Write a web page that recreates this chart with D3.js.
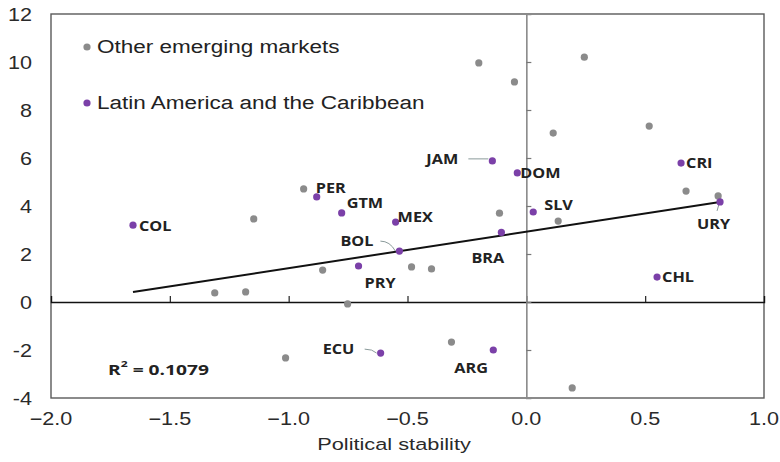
<!DOCTYPE html>
<html>
<head>
<meta charset="utf-8">
<script src="https://cdn.jsdelivr.net/npm/d3@7"></script>
<style>
  html, body { margin: 0; padding: 0; background: #fff; }
  svg { display: block; }
</style>
</head>
<body>
<svg id="chart" width="780" height="462"></svg>
<script>
// Other emerging markets: political stability (x) vs. value (y)
const otherX = [-0.20, -0.05, 0.244, 0.113, 0.517, 0.672, 0.807, 0.134, -0.937, -0.113,
                -0.857, -0.483, -0.399, -0.752, -1.147, -1.311, -1.181, -1.013, -0.315, 0.193];
const otherY = [9.96, 9.17, 10.2, 7.04, 7.33, 4.62, 4.42, 3.37, 4.71, 3.70,
                1.33, 1.46, 1.38, -0.08, 3.46, 0.38, 0.42, -2.33, -1.67, -3.58];

// Latin America and the Caribbean
const lacCodes = ["COL", "PER", "GTM", "MEX", "BOL", "PRY", "BRA", "JAM", "DOM", "SLV", "CRI", "URY", "CHL", "ECU", "ARG"];
const lacX = [-1.655, -0.882, -0.777, -0.55, -0.534, -0.706, -0.105, -0.143, -0.038, 0.029, 0.651, 0.815, 0.55, -0.613, -0.139];
const lacY = [3.2, 4.38, 3.71, 3.33, 2.12, 1.5, 2.9, 5.88, 5.38, 3.75, 5.79, 4.17, 1.04, -2.13, -2.0];

// Linear trend fitted over all countries
const trendSlope = 1.52;
const trendIntercept = 2.93;
const rSquared = "0.1079";

const xTicks = [-2.0, -1.5, -1.0, -0.5, 0.0, 0.5, 1.0];
const yTicks = [-4, -2, 0, 2, 4, 6, 8, 10, 12];
const legendNames = ["Other emerging markets", "Latin America and the Caribbean"];

// Label placement relative to each LAC marker (pixels), and which ones get a leader line
const labelOffset = {
  COL: [6, 1], PER: [-1, -9], GTM: [5, -10], MEX: [2, -5], BOL: [-59, -10],
  PRY: [6, 17], BRA: [-30, 25], JAM: [-66, -2], DOM: [3, 0], SLV: [11, -7],
  CRI: [5, 0], URY: [-23, 22], CHL: [5, 0], ECU: [-58, -4], ARG: [-39, 18]
};
const leaders = new Set(["BOL", "JAM", "ECU", "URY"]);

const GRAY = "#8b8b8b", PURPLE = "#7b40a8";

const svg = d3.select("#chart");
const x = d3.scaleLinear().domain([-2, 1]).range([51, 764]);
const y = d3.scaleLinear().domain([-4, 12]).range([398, 14]);

// helper: horizontally widened text anchored at (px, py)
function stretchedText(parent, px, py, str, opts) {
  const g = parent.append("g").attr("transform", `translate(${px},${py}) scale(${opts.sx || 1},1)`);
  return g.append("text")
    .attr("x", 0).attr("y", 0)
    .attr("text-anchor", opts.anchor || "start")
    .attr("dominant-baseline", "central")
    .attr("font-family", opts.family || "'Liberation Sans', Arial, sans-serif")
    .attr("font-size", opts.size)
    .attr("font-weight", opts.weight || "normal")
    .attr("fill", opts.fill || "#2a2a2a")
    .text(str);
}

// plot-area frame
svg.append("rect")
  .attr("x", x(-2)).attr("y", y(12))
  .attr("width", x(1) - x(-2)).attr("height", y(-4) - y(12))
  .attr("fill", "none").attr("stroke", "#5a5a5a").attr("stroke-width", 1.4);

// horizontal axis through y = 0
const xAxis = d3.axisTop(x).tickValues(xTicks.filter(t => t > -2 && t < 1)).tickSize(6).tickFormat("");
const gx = svg.append("g").attr("transform", `translate(0,${y(0)})`).call(xAxis);
gx.select(".domain").attr("stroke", "#111").attr("stroke-width", 1.4);
gx.selectAll(".tick line").attr("stroke", "#222").attr("stroke-width", 1.2);

// vertical axis through x = 0
const yAxis = d3.axisRight(y).tickValues(yTicks.filter(t => t > -4 && t < 12)).tickSize(5).tickFormat("");
const gy = svg.append("g").attr("transform", `translate(${x(0)},0)`).call(yAxis);
gy.select(".domain").attr("stroke", "#8a8a8a").attr("stroke-width", 1.6);
gy.selectAll(".tick line").attr("stroke", "#777").attr("stroke-width", 1.2);

// tick labels along the frame
yTicks.forEach(t => stretchedText(svg, 32, y(t) + 1, String(t), { size: 18, anchor: "end", sx: 1.2 }));
xTicks.forEach(t => stretchedText(svg, x(t), 419, d3.format(".1f")(t), { size: 18, anchor: "middle", sx: 1.2 }));
stretchedText(svg, 394, 444, "Political stability", { size: 16.5, anchor: "middle", sx: 1.32 });

// trend line over the data extent
const allX = otherX.concat(lacX);
const [xMin, xMax] = d3.extent(allX);
const line = d3.line().x(d => x(d)).y(d => y(trendIntercept + trendSlope * d));
svg.append("path").attr("d", line([xMin, xMax]))
  .attr("fill", "none").attr("stroke", "#111").attr("stroke-width", 2);

// other emerging markets
svg.append("g").selectAll("circle").data(otherX.map((v, i) => [v, otherY[i]])).join("circle")
  .attr("cx", d => x(d[0])).attr("cy", d => y(d[1])).attr("r", 3.6).attr("fill", GRAY);

// LAC leader lines
const lac = lacCodes.map((c, i) => ({ code: c, x: lacX[i], y: lacY[i] }));
const leaderG = svg.append("g");
lac.filter(d => leaders.has(d.code)).forEach(d => {
  const px = x(d.x), py = y(d.y);
  const [dx, dy] = labelOffset[d.code];
  let path;
  if (d.code === "URY") {
    path = `M${px - 3},${py + 9}L${px - 1},${py + 2}`;
  } else if (d.code === "JAM") {
    const sx = px + dx + 42;
    path = `M${sx},${py + dy}L${px - 4},${py + dy}`;
  } else {
    const sx = px + dx + (d.code === "BOL" ? 40 : 42), sy = py + dy;
    const mx = (sx + px) / 2;
    path = `M${sx},${sy}Q${mx},${sy} ${px - 4},${py}`;
  }
  leaderG.append("path").attr("d", path)
    .attr("fill", "none").attr("stroke", "#8a9a9a").attr("stroke-width", 1);
});

svg.append("g").selectAll("circle").data(lac).join("circle")
  .attr("cx", d => x(d.x)).attr("cy", d => y(d.y)).attr("r", 3.6).attr("fill", PURPLE);

// LAC country labels
lac.forEach(d => {
  const [dx, dy] = labelOffset[d.code];
  stretchedText(svg, x(d.x) + dx, y(d.y) + dy, d.code,
    { size: 14.5, weight: "bold", fill: "#222", family: "'Open Sans', sans-serif", sx: 1.12 });
});

// R-squared annotation
const rg = svg.append("g").attr("transform", `translate(108,369) scale(1.28,1)`);
const rt = rg.append("text").attr("dominant-baseline", "central")
  .attr("font-family", "'Open Sans', sans-serif").attr("font-weight", "bold")
  .attr("font-size", 15).attr("fill", "#222");
rt.append("tspan").text("R");
rt.append("tspan").attr("dy", -6).attr("font-size", 9.5).text("2");
rt.append("tspan").attr("dy", 6).text(" = " + rSquared);

// legend
legendNames.forEach((name, i) => {
  const ly = [47, 103][i];
  svg.append("circle").attr("cx", 87).attr("cy", ly).attr("r", 3.6).attr("fill", i ? PURPLE : GRAY);
  stretchedText(svg, 97, ly, name, { size: 18, fill: "#222", sx: 1.25 });
});
</script>
</body>
</html>
